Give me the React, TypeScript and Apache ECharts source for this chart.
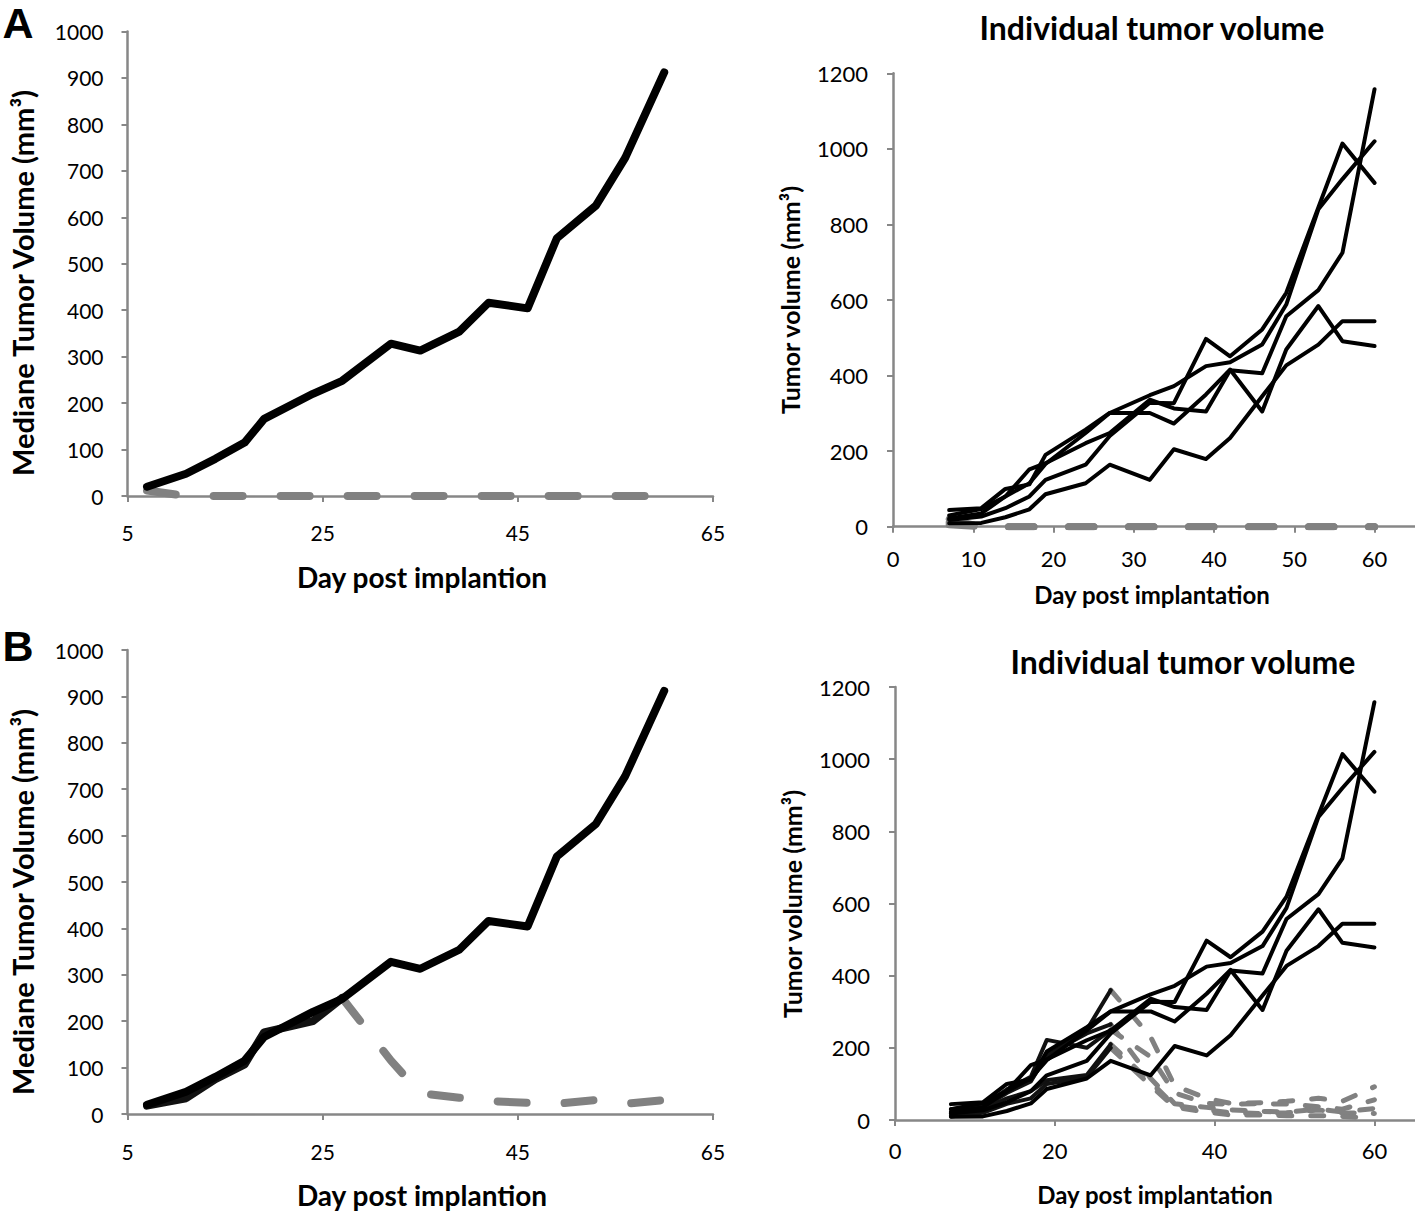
import React, { useEffect, useRef } from "react";
import * as echarts from "echarts";

// ---- data ----
const DAYS = [7, 11, 14, 17, 19, 24, 27, 32, 35, 39, 42, 46, 49, 53, 56, 60];
const PRE_DAYS = [7, 11, 14, 17, 19, 24, 27];
const POST_DAYS = [27, 32, 35, 39, 42, 46, 49, 53, 56, 60];

const CONTROL_MEDIAN = [20, 48, 80, 115, 166, 220, 248, 328, 313, 354, 416, 404, 555, 625, 728, 912];
const TREATED_A_MEDIAN = [12, 0, 0, 0, 0, 0, 0, 0, 0, 0, 0, 0, 0, 0, 0, 0];
const TREATED_B_MEDIAN_PRE = [18, 34, 75, 107, 176, 200, 250];
const TREATED_B_MEDIAN_POST = [250, 115, 45, 35, 28, 24, 22, 30, 22, 30];

const CONTROL_1 = [22, 35, 80, 152, 168, 221, 248, 336, 313, 305, 414, 406, 557, 626, 725, 1158];
const CONTROL_2 = [44, 49, 100, 112, 190, 257, 301, 348, 372, 425, 435, 482, 588, 840, 920, 1020];
const CONTROL_3 = [30, 47, 80, 115, 166, 248, 301, 301, 273, 350, 416, 305, 469, 584, 491, 478];
const CONTROL_4 = [18, 27, 49, 80, 124, 164, 240, 328, 327, 497, 451, 522, 619, 845, 1014, 910];
const CONTROL_5 = [9, 10, 25, 46, 86, 115, 164, 124, 205, 179, 235, 345, 427, 482, 544, 544];

const TREATED_A_1 = [20, 0, 0, 0, 0, 0, 0, 0, 0, 0, 0, 0, 0, 0, 0, 0];
const TREATED_A_2 = [12, 0, 0, 0, 0, 0, 0, 0, 0, 0, 0, 0, 0, 0, 0, 0];
const TREATED_A_3 = [5, 0, 0, 0, 0, 0, 0, 0, 0, 0, 0, 0, 0, 0, 0, 0];

const TREATED_B_1_PRE = [12, 36, 78, 110, 176, 250, 360];
const TREATED_B_2_PRE = [30, 40, 85, 120, 222, 200, 250];
const TREATED_B_3_PRE = [18, 34, 75, 107, 180, 240, 265];
const TREATED_B_4_PRE = [20, 30, 60, 80, 110, 125, 210];
const TREATED_B_5_PRE = [10, 20, 45, 60, 100, 118, 200];

const TREATED_B_1_POST = [360, 230, 95, 60, 46, 48, 52, 60, 52, 92];
const TREATED_B_2_POST = [250, 175, 75, 46, 44, 45, 44, 37, 30, 56];
const TREATED_B_3_POST = [265, 115, 45, 35, 28, 24, 22, 30, 22, 32];
const TREATED_B_4_POST = [210, 105, 40, 28, 20, 18, 20, 28, 20, 18];
const TREATED_B_5_POST = [200, 95, 35, 22, 14, 14, 12, 12, 10, 5];

const pairs = (xs: number[], ys: number[]) => xs.map((x, i) => [x, ys[i]]);

const AXIS_COLOR = "#878787";
const GRAY = "#818181";
const LABEL_FONT = "Lato";

function axisBase(extra: any, margin: number, size: number, hideAbove?: number) {
  return {
    type: "value",
    axisLine: { show: true, onZero: false, lineStyle: { color: AXIS_COLOR, width: 2.5 } },
    axisTick: { show: true, length: 6, lineStyle: { color: AXIS_COLOR, width: 2 } },
    splitLine: { show: false },
    axisLabel: {
      color: "#000",
      fontFamily: LABEL_FONT,
      fontSize: size,
      margin,
      formatter: (v: number) => (hideAbove !== undefined && v > hideAbove ? "" : String(v)),
    },
    ...extra,
  };
}

function line(grid: number, data: number[][], width: number, color: string, dash?: number[]) {
  return {
    type: "line",
    xAxisIndex: grid,
    yAxisIndex: grid,
    data,
    showSymbol: false,
    symbol: "none",
    silent: true,
    lineStyle: {
      color,
      width,
      type: dash ? dash : "solid",
      cap: "round",
      join: "round",
    },
  };
}

function text(t: string, x: number, y: number, size: number, rot = 0, family = LABEL_FONT) {
  return {
    type: "text",
    x,
    y,
    rotation: rot,
    silent: true,
    style: {
      text: t,
      fontFamily: family,
      fontSize: size,
      fontWeight: "bold",
      fill: "#000",
      align: "center",
      verticalAlign: "middle",
    },
  };
}

export default function App() {
  const ref = useRef<HTMLDivElement>(null);
  useEffect(() => {
    if (!ref.current) return;
    const chart = echarts.init(ref.current, undefined, { renderer: "svg" });
    const bigDash = [29, 38];
    const rightDash = [25, 35];
    const smallDash = [13, 19];
    const option: any = {
      animation: false,
      backgroundColor: "#fff",
      grid: [
        { left: 127.5, top: 31.5, width: 585.5, height: 464.5, outerBoundsMode: "none", containLabel: false },
        { left: 893, top: 73.3, width: 561.8, height: 453.4, outerBoundsMode: "none", containLabel: false },
        { left: 127.5, top: 650, width: 585.5, height: 464, outerBoundsMode: "none", containLabel: false },
        { left: 895, top: 687, width: 559.3, height: 433, outerBoundsMode: "none", containLabel: false },
      ],
      xAxis: [
        axisBase({ gridIndex: 0, min: 5, max: 65, interval: 20 }, 26, 21),
        axisBase({ gridIndex: 1, min: 0, max: 70, interval: 10 }, 21, 22, 60),
        axisBase({ gridIndex: 2, min: 5, max: 65, interval: 20 }, 27, 21),
        axisBase({ gridIndex: 3, min: 0, max: 70, interval: 20 }, 19, 22, 60),
      ],
      yAxis: [
        axisBase({ gridIndex: 0, min: 0, max: 1000, interval: 100 }, 24, 21),
        axisBase({ gridIndex: 1, min: 0, max: 1200, interval: 200 }, 25, 22),
        axisBase({ gridIndex: 2, min: 0, max: 1000, interval: 100 }, 24, 21),
        axisBase({ gridIndex: 3, min: 0, max: 1200, interval: 200 }, 25, 22),
      ],
      series: [
        // A left
        line(0, pairs(DAYS, TREATED_A_MEDIAN), 8, GRAY, bigDash),
        line(0, pairs(DAYS, CONTROL_MEDIAN), 8, "#000"),
        // A right
        line(1, pairs(DAYS, TREATED_A_1), 7, GRAY, rightDash),
        line(1, pairs(DAYS, TREATED_A_2), 7, GRAY, rightDash),
        line(1, pairs(DAYS, TREATED_A_3), 7, GRAY, rightDash),
        line(1, pairs(DAYS, CONTROL_1), 4, "#000"),
        line(1, pairs(DAYS, CONTROL_2), 4, "#000"),
        line(1, pairs(DAYS, CONTROL_3), 4, "#000"),
        line(1, pairs(DAYS, CONTROL_4), 4, "#000"),
        line(1, pairs(DAYS, CONTROL_5), 4, "#000"),
        // B left
        line(2, pairs(POST_DAYS, TREATED_B_MEDIAN_POST), 8, GRAY, bigDash),
        line(2, pairs(PRE_DAYS, TREATED_B_MEDIAN_PRE), 8, "#111"),
        line(2, pairs(DAYS, CONTROL_MEDIAN), 8, "#000"),
        // B right
        line(3, pairs(POST_DAYS, TREATED_B_1_POST), 5, GRAY, smallDash),
        line(3, pairs(POST_DAYS, TREATED_B_2_POST), 5, GRAY, smallDash),
        line(3, pairs(POST_DAYS, TREATED_B_3_POST), 5, GRAY, smallDash),
        line(3, pairs(POST_DAYS, TREATED_B_4_POST), 5, GRAY, smallDash),
        line(3, pairs(POST_DAYS, TREATED_B_5_POST), 5, GRAY, smallDash),
        line(3, pairs(PRE_DAYS, TREATED_B_1_PRE), 4, "#111"),
        line(3, pairs(PRE_DAYS, TREATED_B_2_PRE), 4, "#111"),
        line(3, pairs(PRE_DAYS, TREATED_B_3_PRE), 4, "#111"),
        line(3, pairs(PRE_DAYS, TREATED_B_4_PRE), 4, "#111"),
        line(3, pairs(PRE_DAYS, TREATED_B_5_PRE), 4, "#111"),
        line(3, pairs(DAYS, CONTROL_1), 4, "#000"),
        line(3, pairs(DAYS, CONTROL_2), 4, "#000"),
        line(3, pairs(DAYS, CONTROL_3), 4, "#000"),
        line(3, pairs(DAYS, CONTROL_4), 4, "#000"),
        line(3, pairs(DAYS, CONTROL_5), 4, "#000"),
      ],
      graphic: [
        text("A", 18, 23, 43, 0, "Liberation Sans"),
        text("B", 18, 646, 43, 0, "Liberation Sans"),
        text("Mediane Tumor Volume (mm³)", 22, 283, 29, Math.PI / 2),
        text("Day post implantion", 422, 577, 28),
        text("Individual tumor volume", 1152, 27, 32),
        text("Tumor volume (mm³)", 790, 300, 25, Math.PI / 2),
        text("Day post implantation", 1152, 594, 24),
        text("Mediane Tumor Volume (mm³)", 22, 902, 29, Math.PI / 2),
        text("Day post implantion", 422, 1195, 28),
        text("Individual tumor volume", 1183, 661, 32),
        text("Tumor volume (mm³)", 792, 904, 25, Math.PI / 2),
        text("Day post implantation", 1155, 1194, 24),
      ],
    };
    chart.setOption(option);
    return () => chart.dispose();
  }, []);
  return (
    <div
      ref={ref}
      style={{ position: "absolute", left: 0, top: 0, width: 1415, height: 1211, background: "#fff" }}
    />
  );
}
